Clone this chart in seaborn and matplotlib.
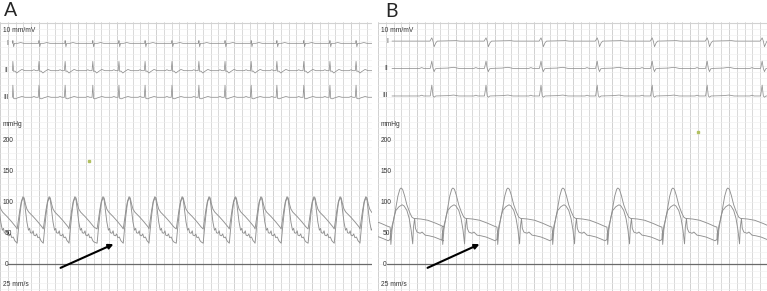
import matplotlib
matplotlib.use("Agg")
import matplotlib.pyplot as plt
import seaborn as sns

sns.set_style("white")
plt.rcParams["font.family"] = ["Liberation Sans", "DejaVu Sans"]

# scale of the recording paper as it appears in the scan
PX_PER_S = 39.0      # 25 mm/s -> one big column (0.2 s) = 7.8 px
PX_PER_MMHG = 0.62
ZERO_PX = 264.3      # pixel row of 0 mmHg
MV = 25.0            # 10 mm/mV in mmHg units of the chart

# ---- panel A ----
a_r_times = [0.33, 1.00, 1.67, 2.38, 3.05, 3.72, 4.41, 5.10, 5.77, 6.44, 7.10, 7.79, 8.46, 9.13]
a_peak_times = [-0.08, 0.59, 1.26, 1.92, 2.64, 3.31, 3.97, 4.67, 5.36, 6.03, 6.69, 7.36, 8.05, 8.72, 9.38]

a_upper_t = [-0.15, -0.12, -0.08, -0.04, 0.00, 0.03, 0.06, 0.10, 0.15, 0.26, 0.36, 0.44, 0.49]
a_upper_p = [57, 70, 88, 102, 109, 107, 98, 89, 84, 77, 70, 64, 60]
a_lower_t = [-0.15, -0.12, -0.08, -0.04, 0.00, 0.03, 0.06, 0.10, 0.14, 0.17, 0.19, 0.23,
             0.26, 0.28, 0.32, 0.35, 0.38, 0.42, 0.46, 0.49]
a_lower_p = [34, 55, 80, 100, 107, 104, 88, 68, 55, 58, 51, 50, 54, 47, 46, 49, 43, 44, 38, 36]

a_ecg1_t = [-0.03, -0.01, 0.00, 0.02, 0.04, 0.12, 0.20, 0.28]
a_ecg1_v = [0, 0, 0.18, -0.22, 0, 0, 0.05, 0]
a_ecg2_t = [-0.18, -0.13, -0.08, -0.02, 0.00, 0.02, 0.05, 0.10, 0.15, 0.23, 0.31]
a_ecg2_v = [0, 0.06, 0, 0, 0.60, -0.05, -0.02, -0.15, -0.05, 0.08, 0]
a_ecg3_t = [-0.18, -0.13, -0.08, -0.02, 0.00, 0.02, 0.06, 0.13, 0.23, 0.31]
a_ecg3_v = [0, 0.05, 0, 0, 0.78, -0.08, -0.10, -0.03, 0.05, 0]

# ---- panel B ----
b_r_times = [1.38, 2.77, 4.18, 5.62, 7.03, 8.44, 9.85]
b_peak_times = [-0.82, 0.59, 1.92, 3.33, 4.74, 6.15, 7.56, 8.97]

b_upper_t = [-0.28, -0.26, -0.23, -0.18, -0.13, -0.08, -0.03, 0.00, 0.04, 0.09, 0.15,
             0.22, 0.28, 0.33, 0.51, 0.69, 0.90, 1.08]
b_upper_p = [60, 47, 62, 74, 92, 110, 121, 123, 121, 111, 96, 84, 76, 74, 73, 71, 66, 61]
b_lower_t = [-0.28, -0.27, -0.26, -0.23, -0.18, -0.13, -0.05, 0.03, 0.08, 0.15, 0.21, 0.26,
             0.30, 0.32, 0.35, 0.37, 0.41, 0.49, 0.54, 0.62, 0.72, 0.85, 0.97, 1.08]
b_lower_p = [40, 50, 32, 56, 76, 87, 93, 96, 94, 87, 74, 55, 33, 60, 74, 58, 52, 50, 52,
             47, 46, 44, 41, 38]

b_ecg1_t = [-0.05, -0.03, 0.00, 0.03, 0.06, 0.10, 0.14, 0.46, 0.62, 0.72]
b_ecg1_v = [0, 0.08, 0.21, 0, -0.36, -0.12, 0, 0.02, 0.03, 0]
b_ecg2_t = [-0.31, -0.26, -0.21, -0.04, 0.00, 0.03, 0.06, 0.09, 0.15, 0.41, 0.56, 0.69]
b_ecg2_v = [0, 0.05, 0, 0, 0.47, 0, -0.21, -0.03, 0, 0.02, 0.07, 0]
b_ecg3_t = [-0.31, -0.26, -0.21, -0.04, 0.00, 0.03, 0.06, 0.10, 0.41, 0.56, 0.69]
b_ecg3_v = [0, 0.05, 0, 0, 0.70, 0, -0.08, 0, 0.02, 0.06, 0]

# baselines of the three leads (mmHg units) and green marker
a_leads = [356.4, 312.3, 269.4]
b_leads = [360.0, 316.0, 271.5]
a_marker = (2.28, 166)
b_marker = (8.21, 213)

TRACE = "#909090"


def pos(xp, yp):
    return xp / PX_PER_S, (ZERO_PX - yp) / PX_PER_MMHG


def beats(times, offs, vals, base=0.0, scale=1.0, start=None, end=None):
    xs, ys = [], []
    if start is not None:
        xs.append(start)
        ys.append(base)
    for t in times:
        for o, v in zip(offs, vals):
            x = t + o
            if start is not None and (x < start or x > end):
                continue
            xs.append(x)
            ys.append(base + scale * v)
    if end is not None:
        xs.append(end)
        ys.append(base)
    return xs, ys


def paper(ax, width_s):
    ax.set_axis_off()
    ymin, ymax = pos(0, 291)[1], pos(0, 22)[1]
    ax.set_xlim(0, width_s)
    ax.set_ylim(ymin, ymax)
    k = 0
    while k * 0.2 <= width_s:
        ax.axvline(k * 0.2, color="#cfcfcf" if k % 5 else "#c4c4c4", lw=0.55, zorder=0)
        k += 1
    for p in range(-40, 390, 10):
        ax.axhline(p, color="#eeeeee", lw=0.4, zorder=0)
    ax.axhline(pos(0, 23)[1], color="#d2d2d2", lw=0.8, zorder=0)


def panel(ax, width_s, x0, leads, r_times, ecg, peaks, upper, lower, marker, arrow):
    paper(ax, width_s)
    start = x0 / PX_PER_S
    for base, (et, ev) in zip(leads, ecg):
        xs, ys = beats(r_times, et, ev, base, MV, start, width_s)
        sns.lineplot(x=xs, y=ys, ax=ax, color=TRACE, lw=0.55, estimator=None, sort=False)
    for (pt, pv) in (upper, lower):
        xs, ys = beats(peaks, pt, pv)
        sns.lineplot(x=xs, y=ys, ax=ax, color=TRACE, lw=0.65, estimator=None, sort=False)
    ax.axhline(0, xmin=(x0 - 5) / PX_PER_S / width_s, color="#6a6a6a", lw=0.9)
    ax.plot(*marker, marker="s", ms=1.9, color="#b2c060", ls="none")

    fs = 4.8
    ax.text(*pos(3, 30.5), "10 mm/mV", fontsize=fs, va="center", color="#333333")
    for lab, base in zip(["I", "II", "III"], leads):
        ax.text(x0 / PX_PER_S - 0.1, base, lab, fontsize=fs, va="center", ha="right",
                color="#444444")
    ax.text(*pos(3, 125), "mmHg", fontsize=fs, va="center", color="#333333")
    for lab, xp in [("200", 3), ("150", 3), ("100", 3), ("50", 5), ("0", 5)]:
        ax.text(xp / PX_PER_S, int(lab), lab, fontsize=fs, va="center", color="#333333")
    ax.text(*pos(3, 284), "25 mm/s", fontsize=fs, va="center", color="#333333")
    tail, head = arrow
    ax.annotate("", xy=pos(*head), xytext=pos(*tail),
                arrowprops=dict(arrowstyle="-|>", color="black", lw=1.5, mutation_scale=7))


fig = plt.figure(figsize=(7.67, 2.91), dpi=100)
axA = fig.add_axes([0, 0, 372 / 767, 269 / 291])
axB = fig.add_axes([378 / 767, 0, 389 / 767, 269 / 291])

panel(axA, 372 / PX_PER_S, 12.5, a_leads, a_r_times,
      [(a_ecg1_t, a_ecg1_v), (a_ecg2_t, a_ecg2_v), (a_ecg3_t, a_ecg3_v)],
      a_peak_times, (a_upper_t, a_upper_p), (a_lower_t, a_lower_p), a_marker,
      ((58, 269), (116, 243)))
panel(axB, 389 / PX_PER_S, 14, b_leads, b_r_times,
      [(b_ecg1_t, b_ecg1_v), (b_ecg2_t, b_ecg2_v), (b_ecg3_t, b_ecg3_v)],
      b_peak_times, (b_upper_t, b_upper_p), (b_lower_t, b_lower_p), b_marker,
      ((47, 269), (104, 243)))

fig.text(4 / 767, 1 - 11 / 291, "A", fontsize=14, va="center", family=["Lato", "DejaVu Sans"])
fig.text(385 / 767, 1 - 11.5 / 291, "B", fontsize=14, va="center", family=["Lato", "DejaVu Sans"])

fig.savefig("out.png", dpi=100, facecolor="white")
